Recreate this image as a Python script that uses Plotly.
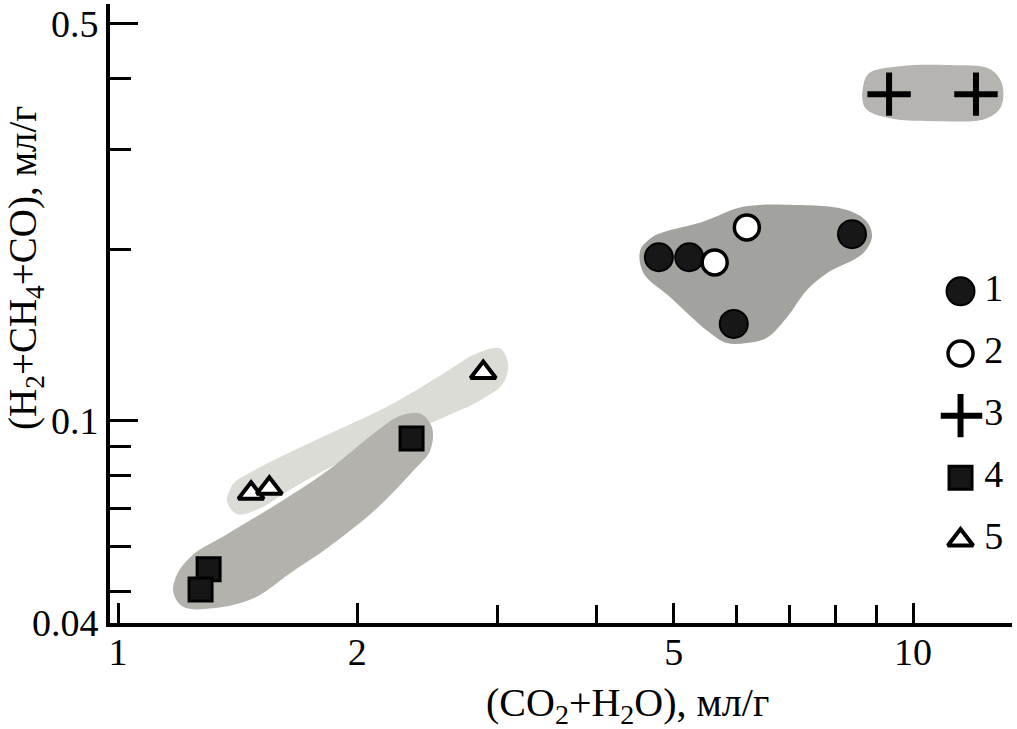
import math
import plotly.graph_objects as go

# ---- data ----
s1_x = [4.79, 5.23, 5.95, 8.38]
s1_y = [0.194, 0.194, 0.148, 0.213]
s2_x = [6.18, 5.63]
s2_y = [0.219, 0.190]
s3_x = [9.33, 12.0]
s3_y = [0.376, 0.376]
s4_x = [2.34, 1.30, 1.27]
s4_y = [0.093, 0.0547, 0.0504]
s5_x = [2.88, 1.47, 1.55]
s5_y = [0.1216, 0.0745, 0.076]

legend_labels = ["1", "2", "3", "4", "5"]

# envelope outlines (data units)
env_plus_x = [8.63, 8.78, 9.63, 11.13, 12.50, 12.94, 12.90, 12.32, 10.81, 9.36, 8.73]
env_plus_y = [0.376, 0.408, 0.421, 0.423, 0.416, 0.392, 0.357, 0.340, 0.337, 0.341, 0.354]
env_circ_x = [4.54, 4.71, 5.44, 6.11, 6.94, 8.26, 8.75, 8.88, 8.65, 7.80, 7.36, 6.94, 6.55,
              6.18, 5.83, 5.51, 4.95, 4.58]
env_circ_y = [0.200, 0.211, 0.224, 0.238, 0.240, 0.235, 0.224, 0.211, 0.197, 0.182, 0.170,
              0.152, 0.140, 0.137, 0.137, 0.144, 0.165, 0.182]
env_sq_x = [1.173, 1.186, 1.243, 1.371, 1.585, 1.832, 2.117, 2.263, 2.399, 2.483, 2.469,
            2.350, 2.117, 1.832, 1.660, 1.478, 1.317, 1.207]
env_sq_y = [0.050, 0.0536, 0.0581, 0.0631, 0.0713, 0.0815, 0.0959, 0.102, 0.1029, 0.0972,
            0.0885, 0.0815, 0.0701, 0.0596, 0.0543, 0.0486, 0.0467, 0.0470]
env_tri_x = [1.371, 1.395, 1.478, 1.660, 1.919, 2.218, 2.564, 2.829, 3.024, 3.094, 3.050,
             2.853, 2.564, 2.399, 2.218, 1.919, 1.660, 1.509, 1.412]
env_tri_y = [0.0722, 0.0773, 0.0815, 0.0885, 0.0972, 0.1072, 0.121, 0.1314, 0.134, 0.1261,
             0.1162, 0.1085, 0.1012, 0.0972, 0.0921, 0.0849, 0.0761, 0.0701, 0.0684]

x_tick_vals = [1, 2, 5, 10]
x_tick_text = ["1", "2", "5", "10"]
x_minor_vals = [3, 4, 6, 7, 8, 9]
y_tick_vals = [0.044, 0.1, 0.5]
y_tick_text = ["0.04", "0.1", "0.5"]
y_minor_vals = [0.05, 0.06, 0.07, 0.08, 0.09, 0.2, 0.3, 0.4]

x_range = [0.977, 13.32]
y_range = [0.044, 0.542]

FONT = "Liberation Serif"

styles = [
    dict(symbol="circle", size=28, color="#171717", line=dict(color="black", width=2)),
    dict(symbol="circle", size=25, color="white", line=dict(color="black", width=3.5)),
    dict(symbol="cross-thin", size=31, color="black", line=dict(color="black", width=6)),
    dict(symbol="square", size=23, color="#161616", line=dict(color="black", width=3)),
    dict(symbol="triangle-up", size=22, color="white", line=dict(color="black", width=4)),
]


def closed(a):
    return list(a) + list(a[:2])


fig = go.Figure()

for ex, ey, col in [
    (env_tri_x, env_tri_y, "#dcdcd6"),
    (env_sq_x, env_sq_y, "#b3b2ad"),
    (env_circ_x, env_circ_y, "#a2a29e"),
    (env_plus_x, env_plus_y, "#b5b4b0"),
]:
    fig.add_trace(go.Scatter(x=closed(ex), y=closed(ey), mode="lines", fill="toself",
                             fillcolor=col, line=dict(width=0, shape="spline", smoothing=1.0),
                             hoverinfo="skip", showlegend=False))

series = [(s1_x, s1_y), (s2_x, s2_y), (s3_x, s3_y), (s4_x, s4_y), (s5_x, s5_y)]
for (sx, sy), st, lab in zip(series, styles, legend_labels):
    fig.add_trace(go.Scatter(x=sx, y=sy, mode="markers", marker=st, name=lab,
                             showlegend=False))

# legend drawn as a small categorical subplot
for st, lab in zip(styles, legend_labels):
    fig.add_trace(go.Scatter(x=[0], y=[lab], mode="markers", marker=st,
                             xaxis="x2", yaxis="y2", showlegend=False, hoverinfo="skip"))
fig.add_trace(go.Scatter(x=[0.6] * len(legend_labels), y=legend_labels, mode="text",
                         text=legend_labels, textposition="middle right",
                         textfont=dict(family=FONT, size=38, color="black"),
                         xaxis="x2", yaxis="y2", showlegend=False, hoverinfo="skip"))

axis_common = dict(showline=True, linecolor="black", linewidth=4, showgrid=False,
                   zeroline=False, ticks="inside", tickcolor="black", tickwidth=3,
                   automargin=False,
                   tickfont=dict(family=FONT, size=38, color="black"))

fig.update_layout(
    width=1017, height=729,
    margin=dict(l=110, r=5, t=4, b=106),
    paper_bgcolor="white", plot_bgcolor="white",
    xaxis=dict(type="log", range=[math.log10(x_range[0]), math.log10(x_range[1])],
               tickmode="array", tickvals=x_tick_vals, ticktext=x_tick_text, ticklen=20,
               ticklabelstandoff=-8,
               minor=dict(tickmode="array", tickvals=x_minor_vals, ticks="inside",
                          ticklen=18, tickwidth=3, tickcolor="black"),
               **axis_common),
    yaxis=dict(type="log", range=[math.log10(y_range[0]), math.log10(y_range[1])],
               tickmode="array", tickvals=y_tick_vals, ticktext=y_tick_text, ticklen=28,
               minor=dict(tickmode="array", tickvals=y_minor_vals, ticks="inside",
                          ticklen=21, tickwidth=3, tickcolor="black"),
               **axis_common),
    xaxis2=dict(domain=[0.921, 1.0], anchor="y2", range=[-0.5, 1.3], visible=False),
    yaxis2=dict(domain=[0.084, 0.586], anchor="x2", type="category",
                categoryorder="array", categoryarray=legend_labels,
                range=[4.5, -0.5], visible=False),
    annotations=[
        dict(text="(CO<sub>2</sub>+H<sub>2</sub>O), мл/г", xref="paper", yref="paper",
             x=0.574, y=-0.133, xanchor="center", yanchor="middle", showarrow=False,
             font=dict(family=FONT, size=40, color="black")),
        dict(text="(H<sub>2</sub>+CH<sub>4</sub>+CO), мл/г", xref="paper", yref="paper",
             x=-0.094, y=0.574, xanchor="center", yanchor="middle", showarrow=False,
             textangle=-90, font=dict(family=FONT, size=39, color="black")),
    ],
)

fig.write_html("out.html", config={"displayModeBar": False},
               post_script="document.body.style.margin='0px';document.body.style.overflow='hidden';")
